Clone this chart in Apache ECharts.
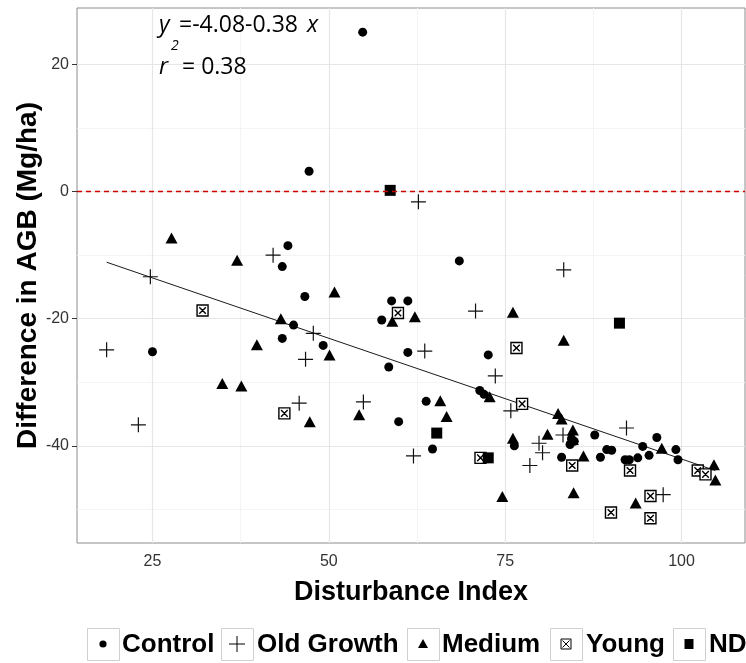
<!DOCTYPE html>
<html>
<head>
<meta charset="utf-8">
<script src="https://cdn.jsdelivr.net/npm/echarts@6/dist/echarts.min.js"></script>
<style>
  html, body { margin: 0; padding: 0; background: #ffffff; }
  #chart { width: 746px; height: 663px; }
</style>
</head>
<body>
<div id="chart"></div>
<script>
// Difference in above-ground biomass vs. disturbance index, by stand class
const controlPts = [
  [54.8, 25.1], [47.2, 3.2], [44.2, -8.5], [43.4, -11.8], [46.6, -16.5], [68.5, -10.9],
  [58.9, -17.2], [61.2, -17.2], [57.5, -20.2], [45.0, -21.0], [43.4, -23.1], [49.2, -24.2],
  [61.2, -25.3], [58.5, -27.6], [25.0, -25.2], [72.6, -25.7], [71.4, -31.3], [72.0, -31.9],
  [63.8, -33.0], [59.9, -36.2], [64.7, -40.5], [76.3, -40.0], [84.2, -39.8], [84.8, -39.3],
  [84.4, -38.9], [87.7, -38.3], [83.0, -41.8], [88.5, -41.8], [89.4, -40.6], [90.1, -40.7],
  [92.0, -42.2], [92.6, -42.2], [93.8, -41.9], [94.5, -40.1], [95.4, -41.5], [96.5, -38.7],
  [99.2, -40.6], [99.5, -42.2]
];
const oldGrowthPts = [
  [18.5, -24.9], [23.0, -36.7], [24.7, -13.4], [42.1, -10.0], [47.8, -22.3], [46.7, -26.4],
  [45.8, -33.3], [54.9, -33.1], [63.6, -25.1], [62.0, -41.6], [62.7, -1.6], [70.8, -18.8],
  [73.6, -29.0], [75.8, -34.5], [83.3, -12.3], [79.8, -39.6], [80.3, -41.1], [78.5, -43.1],
  [83.2, -38.3], [92.2, -37.2], [97.4, -47.7]
];
const mediumPts = [
  [27.7, -7.3], [37.0, -10.8], [50.8, -15.8], [43.2, -20.0], [39.8, -24.1], [50.1, -25.7],
  [34.9, -30.2], [37.6, -30.6], [47.3, -36.2], [54.3, -35.1], [59.0, -20.4], [62.2, -19.7],
  [65.8, -32.9], [66.7, -35.4], [72.8, -32.3], [76.1, -19.0], [83.3, -23.4], [82.5, -34.9],
  [83.0, -35.8], [81.0, -38.2], [76.1, -38.8], [84.6, -37.5], [84.6, -39.0], [86.1, -41.6],
  [74.6, -48.0], [84.7, -47.4], [97.2, -40.4], [93.5, -49.0], [104.6, -43.0], [104.8, -45.4]
];
const youngPts = [
  [32.1, -18.7], [43.7, -34.9], [59.8, -19.1], [76.6, -24.6], [77.4, -33.4], [71.5, -41.9],
  [84.5, -43.1], [92.7, -43.9], [102.3, -43.9], [103.4, -44.5], [95.6, -47.9], [90.0, -50.5],
  [95.6, -51.4]
];
const ndPts = [
  [58.7, 0.2], [65.3, -38.0], [72.6, -41.9], [91.2, -20.7]
];

// Fitted regression and its reported fit
const intercept = -4.08;
const slope = -0.38;
const rSquared = 0.38;

// Axis ticks and grid
const xTicks = [25, 50, 75, 100];
const yTicks = [-40, -20, 0, 20];
const xMinor = [37.5, 62.5, 87.5];
const yMinor = [-50, -30, -10, 10];

const groupNames = ['Control', 'Old Growth', 'Medium', 'Young', 'ND'];

const allX = [controlPts, oldGrowthPts, mediumPts, youngPts, ndPts].flat().map(p => p[0]);
const xLo = Math.min(...allX);
const xHi = Math.max(...allX);
const fitLine = [xLo, xHi].map(x => [x, intercept + slope * x]);

const plusPath = 'path://M0,7L14,7M7,0L7,14';
const youngPath = 'path://M0,0L10,0L10,10L0,10ZM2,2L8,8M8,2L2,8';

const chart = echarts.init(document.getElementById('chart'), null, { renderer: 'canvas' });

const gridLines = [].concat(
  xMinor.map(v => ({ xAxis: v, lineStyle: { color: '#f4f4f4', width: 1, type: 'solid' } })),
  yMinor.map(v => ({ yAxis: v, lineStyle: { color: '#f4f4f4', width: 1, type: 'solid' } })),
  xTicks.map(v => ({ xAxis: v, lineStyle: { color: '#e6e6e6', width: 1.2, type: 'solid' } })),
  yTicks.map(v => ({ yAxis: v, lineStyle: { color: '#e6e6e6', width: 1.2, type: 'solid' } }))
);

const labelFont = '"Liberation Sans", Arial, sans-serif';
const eqFont = '"Open Sans", "Noto Sans", sans-serif';

// Legend keys
const keyBoxX = [87, 221, 407, 550, 673];
const keyTextX = [122, 257, 442, 586, 709];
const keyTop = 628;
const keySize = 32;
const keyMid = keyTop + keySize / 2;

function keySymbol(i) {
  const cx = keyBoxX[i] + keySize / 2;
  const cy = keyMid;
  const blk = { fill: '#000' };
  if (i === 0) return [{ type: 'circle', shape: { cx, cy, r: 3.6 }, style: blk }];
  if (i === 1) return [
    { type: 'line', shape: { x1: cx - 8, y1: cy, x2: cx + 8, y2: cy }, style: { stroke: '#000', lineWidth: 1 } },
    { type: 'line', shape: { x1: cx, y1: cy - 8, x2: cx, y2: cy + 8 }, style: { stroke: '#000', lineWidth: 1 } }
  ];
  if (i === 2) return [{ type: 'polygon', shape: { points: [[cx - 5, cy + 4], [cx + 5, cy + 4], [cx, cy - 5]] }, style: blk }];
  if (i === 3) return [
    { type: 'rect', shape: { x: cx - 5, y: cy - 5, width: 10, height: 10 }, style: { fill: '#fff', stroke: '#000', lineWidth: 1 } },
    { type: 'line', shape: { x1: cx - 3.5, y1: cy - 3.5, x2: cx + 3.5, y2: cy + 3.5 }, style: { stroke: '#000', lineWidth: 1 } },
    { type: 'line', shape: { x1: cx + 3.5, y1: cy - 3.5, x2: cx - 3.5, y2: cy + 3.5 }, style: { stroke: '#000', lineWidth: 1 } }
  ];
  return [{ type: 'rect', shape: { x: cx - 4.5, y: cy - 5, width: 9, height: 10 }, style: blk }];
}

const legendGraphics = [];
groupNames.forEach((name, i) => {
  legendGraphics.push({
    type: 'rect', z: 20,
    shape: { x: keyBoxX[i] + 0.5, y: keyTop + 0.5, width: keySize, height: keySize },
    style: { fill: '#fff', stroke: '#d0d0d0', lineWidth: 1 }
  });
  keySymbol(i).forEach(g => { g.z = 21; legendGraphics.push(g); });
  legendGraphics.push({
    type: 'text', z: 20,
    style: {
      text: name, x: keyTextX[i], y: keyMid + 1,
      font: 'bold 26px ' + labelFont, fill: '#000', verticalAlign: 'middle'
    }
  });
});

// Equation annotation
const eqText = '=' + intercept.toFixed(2) + slope.toFixed(2);
const eqGraphics = [
  { type: 'text', z: 20, style: { text: 'y', x: 159, y: 25, font: 'italic 23px ' + eqFont, fill: '#000', verticalAlign: 'middle' } },
  { type: 'text', z: 20, style: { text: eqText, x: 179, y: 25, font: '23px ' + eqFont, fill: '#000', verticalAlign: 'middle' } },
  { type: 'text', z: 20, style: { text: 'x', x: 307, y: 25, font: 'italic 23px ' + eqFont, fill: '#000', verticalAlign: 'middle' } },
  { type: 'text', z: 20, style: { text: '2', x: 171, y: 46, font: 'italic 14px ' + eqFont, fill: '#000', verticalAlign: 'middle' } },
  { type: 'text', z: 20, style: { text: 'r', x: 159, y: 67, font: 'italic 23px ' + eqFont, fill: '#000', verticalAlign: 'middle' } },
  { type: 'text', z: 20, style: { text: '= ' + rSquared.toFixed(2), x: 182, y: 67, font: '23px ' + eqFont, fill: '#000', verticalAlign: 'middle' } }
];

const option = {
  animation: false,
  backgroundColor: '#ffffff',
  grid: { left: 77, top: 8, right: 1, bottom: 120, show: true, borderColor: '#8c8c8c', borderWidth: 1, backgroundColor: 'transparent' },
  xAxis: {
    type: 'value', min: 14.3, max: 109,
    name: 'Disturbance Index', nameLocation: 'middle', nameGap: 36,
    nameTextStyle: { fontFamily: labelFont, fontWeight: 'bold', fontSize: 27, color: '#000' },
    axisLine: { show: false },
    axisTick: { show: true, length: 5, customValues: xTicks, lineStyle: { color: '#333' } },
    axisLabel: { customValues: xTicks, margin: 11, fontFamily: labelFont, fontSize: 16, color: '#333' },
    splitLine: { show: false }
  },
  yAxis: {
    type: 'value', min: -55.3, max: 28.9,
    name: 'Difference in AGB (Mg/ha)', nameLocation: 'middle', nameGap: 35, nameRotate: 90,
    nameMoveOverlap: false,
    nameTextStyle: { fontFamily: labelFont, fontWeight: 'bold', fontSize: 28, color: '#000' },
    axisLine: { show: false },
    axisTick: { show: true, length: 5, customValues: yTicks, lineStyle: { color: '#333' } },
    axisLabel: { customValues: yTicks, margin: 8, fontFamily: labelFont, fontSize: 16, color: '#333' },
    splitLine: { show: false }
  },
  graphic: legendGraphics.concat(eqGraphics),
  series: [
    {
      name: 'grid', type: 'scatter', data: [], silent: true, z: 1,
      markLine: { silent: true, z: 1, symbol: 'none', label: { show: false }, animation: false, data: gridLines }
    },
    {
      name: 'fit', type: 'line', data: fitLine, showSymbol: false, silent: true, z: 2,
      lineStyle: { color: '#1a1a1a', width: 1 }
    },
    {
      name: groupNames[0], type: 'scatter', data: controlPts, symbol: 'circle', symbolSize: 9, z: 3,
      itemStyle: { color: '#000', opacity: 1 }
    },
    {
      name: groupNames[1], type: 'scatter', data: oldGrowthPts, symbol: plusPath, symbolSize: 15, z: 3,
      itemStyle: { color: 'transparent', borderColor: '#111', borderWidth: 1.2, opacity: 1 }
    },
    {
      name: groupNames[2], type: 'scatter', data: mediumPts, symbol: 'triangle', symbolSize: [12, 11], z: 3,
      itemStyle: { color: '#000', opacity: 1 }
    },
    {
      name: groupNames[3], type: 'scatter', data: youngPts, symbol: youngPath, symbolSize: 11, z: 3,
      itemStyle: { color: '#fff', borderColor: '#000', borderWidth: 1.4, opacity: 1 }
    },
    {
      name: groupNames[4], type: 'scatter', data: ndPts, symbol: 'rect', symbolSize: 11, z: 3,
      itemStyle: { color: '#000', opacity: 1 }
    },
    {
      name: 'zero', type: 'scatter', data: [], silent: true, z: 4,
      markLine: {
        silent: true, z: 6, symbol: 'none', label: { show: false }, animation: false,
        data: [{ yAxis: 0, lineStyle: { color: '#cc0000', width: 1.4, type: [5, 4] } }]
      }
    }
  ]
};

chart.setOption(option);
</script>
</body>
</html>
